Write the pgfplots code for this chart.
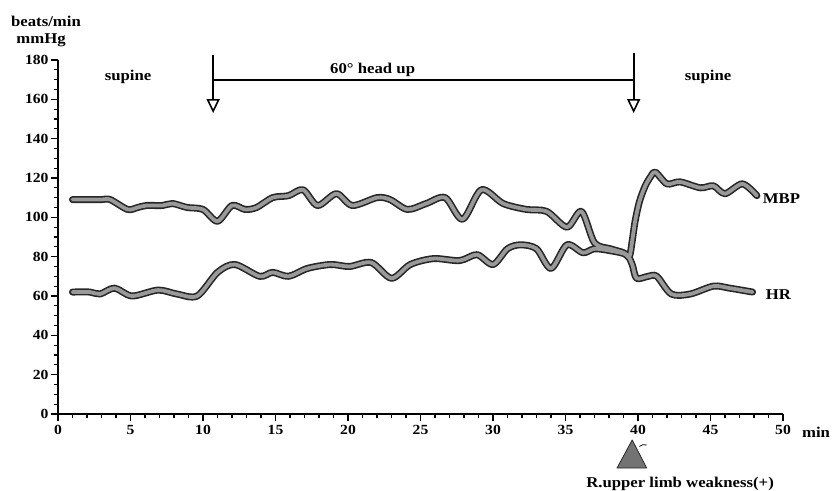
\documentclass[border=0pt]{standalone}
\usepackage{fontspec}
\setmainfont{Liberation Serif}[FakeStretch=1.12]
\usepackage{pgfplots}
\pgfplotsset{compat=1.18}
\usetikzlibrary{arrows.meta}
\begin{document}
\begin{tikzpicture}
\begin{axis}[
  x=14.5bp, y=1.967bp,
  xmin=0, xmax=50, ymin=0, ymax=180,
  axis x line*=bottom, axis y line*=left,
  axis line style={-, line width=1.4bp},
  clip=false,
  xtick={0,5,...,50}, ytick={0,20,...,180},
  minor x tick num=4, minor y tick num=3,
  tick align=outside,
  major tick length=7bp, minor tick length=4bp,
  every tick/.style={black, line width=1.2bp},
  /pgf/number format/assume math mode=true,
  ticklabel style={font=\fontsize{14}{15}\selectfont\bfseries},
  xticklabel style={yshift=-0.5bp},
  yticklabel style={xshift=1bp},
]
\pgfplotstableread{
x y
1 109
2 109
3 109
3.6 109
4.8 104
5.5 105
6.1 106
7.2 106
7.9 107
8.9 105
10 104
11 98
12 106
12.9 104
13.7 105
14.8 110
15.9 111
16.9 114
17.9 106
19.2 112
20.3 106
22 110
22.9 109
24.1 104
25.4 107
26.7 110
27.9 99
29.2 114
30.7 107
32.3 104
33.7 103
35.1 95
36.1 103
37 87
38.1 84
39 82
39.4 80
39.6 88
39.8 98
40.1 108
40.5 116
40.9 121
41.2 123
42 117
42.9 118
44.3 115
45.2 116
46 112
47.2 117
48.2 111
}\mbp
\pgfplotstableread{
x y
1 62
2.2 62
2.9 61
3.9 64
5.1 60
6.9 63
8.2 61
9.6 60
11 72
12.2 76
13.9 70
14.8 72
15.9 70
17.2 74
18.8 76
20.1 75
21.6 77
23 69
24.3 76
25.9 79
27.7 78
28.9 81
30 76
31 84
31.9 86
33 84
34 74
35.1 86
36.2 82
37 84
38.1 83
39.2 81
39.6 76
39.9 69
40.7 70
41.3 70
42.3 61
43.6 61
45.2 65
46.3 64
47.9 62
}\hr
\addplot[black!85, line width=7bp, line cap=round, line join=round, smooth, tension=0.5] table {\mbp};
\addplot[black!85, line width=7bp, line cap=round, line join=round, smooth, tension=0.5] table {\hr};
\addplot[gray!80, line width=3.8bp, line cap=round, line join=round, smooth, tension=0.5] table {\mbp};
\addplot[gray!80, line width=3.8bp, line cap=round, line join=round, smooth, tension=0.5] table {\hr};
% annotations
\begin{scope}[every node/.style={font=\fontsize{15}{16}\selectfont\bfseries, inner sep=0pt}]
\node[anchor=center] at (axis cs:-0.83,199.5) {beats/min};
\node[anchor=center] at (axis cs:-1.17,190.2) {mmHg};
\node[anchor=base] at (axis cs:4.83,169.3) {supine};
\node[anchor=base] at (axis cs:44.83,169.3) {supine};
\node[anchor=base] at (axis cs:21.7,172.9) {60\textdegree\ head up};
\node[anchor=base west] at (axis cs:48.6,106.8) {MBP};
\node[anchor=base west] at (axis cs:48.8,58) {HR};
\node[anchor=base west] at (axis cs:51.3,-12.2) {min};
\node[anchor=base] at (axis cs:42.9,-37.6) {R.upper limb weakness(+)};
\end{scope}
\draw[line width=1.1bp] (axis cs:10.7,169.8) -- (axis cs:39.7,169.8);
\draw[line width=1.8bp, -{Triangle[open, length=14bp, width=13bp, line width=1.6bp]}] (axis cs:10.7,182.5) -- (axis cs:10.7,153);
\draw[line width=1.8bp, -{Triangle[open, length=14bp, width=13bp, line width=1.6bp]}] (axis cs:39.7,183.5) -- (axis cs:39.7,153);
\draw[fill=black!55, draw=black!85, line width=0.8bp, line join=round] (axis cs:39.6,-13.2) -- (axis cs:40.6,-27.5) -- (axis cs:38.55,-27.5) -- cycle;
\draw[line width=0.8bp] (axis cs:40.1,-16.5) .. controls (axis cs:40.3,-15.5) .. (axis cs:40.6,-15.8);
\coordinate (O) at (axis cs:0,0);
\end{axis}
\pgfresetboundingbox
\path[use as bounding box] (O) ++(-58bp,-77bp) rectangle ++(836bp,491bp);
\end{tikzpicture}
\end{document}
